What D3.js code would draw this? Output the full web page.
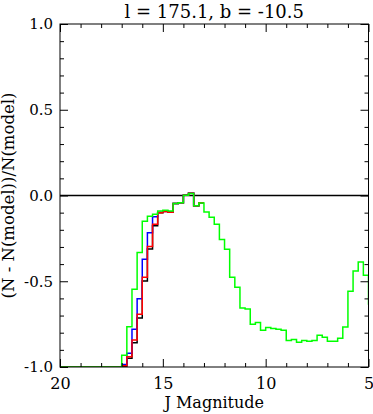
<!DOCTYPE html>
<html>
<head>
<meta charset="utf-8">
<script src="https://cdn.jsdelivr.net/npm/d3@7"></script>
<style>
  html, body { margin: 0; padding: 0; background: #fff; }
  svg { display: block; }
  text { font-family: "DejaVu Serif", serif; fill: #000; }
</style>
</head>
<body>
<svg id="chart" width="373" height="414"></svg>
<script>
// ---- data ----
const title = "l = 175.1, b = -10.5";
const xLabel = "J Magnitude";
const yLabel = "(N - N(model))/N(model)";
const binWidth = 0.25;
const binStarts = [20.0,19.75,19.5,19.25,19.0,18.75,18.5,18.25,18.0,17.75,17.5,17.25,
  17.0,16.75,16.5,16.25,16.0,15.75,15.5,15.25,
  15.0,14.75,14.5,14.25,14.0,13.75,13.5,13.25,
  13.0,12.75,12.5,12.25,12.0,11.75,11.5,11.25,
  11.0,10.75,10.5,10.25,10.0,9.75,9.5,9.25,
  9.0,8.75,8.5,8.25,8.0,7.75,7.5,7.25,
  7.0,6.75,6.5,6.25,6.0,5.75,5.5,5.25,5.0];
const greenVals = [-1,-1,-1,-1,-1,-1,-1,-1,-1,-1,-1,-1,
  -0.932,-0.765,-0.547,-0.333,-0.150,-0.121,-0.110,-0.090,
  -0.086,-0.090,-0.047,-0.042,0.001,0.012,-0.060,-0.044,
  -0.096,-0.127,-0.168,-0.256,-0.314,-0.477,-0.535,-0.656,
  -0.662,-0.751,-0.740,-0.786,-0.769,-0.775,-0.780,-0.786,
  -0.845,-0.839,-0.856,-0.845,-0.850,-0.845,-0.815,-0.827,
  -0.850,-0.850,-0.833,-0.767,-0.559,-0.440,-0.388,-0.465,-0.633];
const blackVals = [-1,-1,-1,-1,-1,-1,-1,-1,-1,-1,-1,-1,
  -0.998,-0.949,-0.858,-0.714,-0.499,-0.312,-0.176,-0.100,
  -0.094,-0.098,-0.046,-0.042,0.001,0.013,-0.060,-0.042];
const blueVals = [-1,-1,-1,-1,-1,-1,-1,-1,-1,-1,-1,-1,
  -0.985,-0.920,-0.780,-0.602,-0.372,-0.217,-0.124,-0.097,
  -0.092,-0.096,-0.046,-0.042,0.001,0.013,-0.060,-0.042];
const redVals = [-1,-1,-1,-1,-1,-1,-1,-1,-1,-1,-1,-1,
  -0.992,-0.940,-0.843,-0.693,-0.477,-0.298,-0.168,-0.100,
  -0.094,-0.098,-0.046,-0.042,0.001,0.013,-0.060,-0.042];
const xMajorTicks = [20, 15, 10, 5];
const xMinorTicks = [19,18,17,16,14,13,12,11,9,8,7,6];
const yMajorTicks = [-1.0, -0.5, 0.0, 0.5, 1.0];
const yMinorTicks = [-0.9,-0.8,-0.7,-0.6,-0.4,-0.3,-0.2,-0.1,0.1,0.2,0.3,0.4,0.6,0.7,0.8,0.9];

// ---- layout ----
const L = 60, R = 368.5, T = 24, B = 367;
const svg = d3.select("#chart");
const x = d3.scaleLinear().domain([20, 5]).range([L, R]);
const y = d3.scaleLinear().domain([-1, 1]).range([B, T]);

svg.append("defs").append("clipPath").attr("id", "clip")
  .append("rect").attr("x", L).attr("y", T).attr("width", R - L).attr("height", B - T);

// ---- series ----
function stepPoints(vals) {
  const pts = vals.map((v, i) => [binStarts[i], v]);
  pts.push([binStarts[vals.length - 1] - binWidth, vals[vals.length - 1]]);
  return pts;
}
const line = d3.line().x(d => x(d[0])).y(d => y(d[1])).curve(d3.curveStepAfter);
const g = svg.append("g").attr("clip-path", "url(#clip)");

// zero line
g.append("line").attr("x1", x(20)).attr("x2", x(5)).attr("y1", y(0)).attr("y2", y(0))
  .attr("stroke", "#000").attr("stroke-width", 1.5);

const series = [
  {vals: blackVals, color: "#000000"},
  {vals: blueVals, color: "#0000ff"},
  {vals: redVals, color: "#ff0000"},
  {vals: greenVals, color: "#00ff00"}
];
series.forEach(s => {
  g.append("path").attr("d", line(stepPoints(s.vals)))
    .attr("fill", "none").attr("stroke", s.color).attr("stroke-width", 1.5);
});

// ---- axes ----
function addAxis(axisFn, scale, ticks, size, transform, fmt) {
  const a = axisFn(scale).tickValues(ticks).tickSizeInner(-size).tickSizeOuter(0)
    .tickPadding(fmt ? 7 : 0).tickFormat(fmt || (() => ""));
  const ax = svg.append("g").attr("transform", transform).call(a);
  ax.select(".domain").remove();
  ax.selectAll("line").attr("stroke", "#000").attr("stroke-width", 1);
  return ax;
}
const bx = addAxis(d3.axisBottom, x, xMajorTicks, 8, `translate(0,${B})`, d => String(d));
bx.selectAll("text").attr("font-size", 16).attr("font-family", "Liberation Serif")
  .attr("dy", "0.95em");
addAxis(d3.axisBottom, x, xMinorTicks, 4, `translate(0,${B})`, null);
addAxis(d3.axisTop, x, xMajorTicks, 8, `translate(0,${T})`, null);
addAxis(d3.axisTop, x, xMinorTicks, 4, `translate(0,${T})`, null);

const ly = addAxis(d3.axisLeft, y, yMajorTicks, 8, `translate(${L},0)`,
  d => d3.format(".1f")(d).replace("\u2212", "-"));
ly.selectAll("text").attr("font-size", 15).attr("font-family", "Liberation Serif");
addAxis(d3.axisLeft, y, yMinorTicks, 4, `translate(${L},0)`, null);
addAxis(d3.axisRight, y, yMajorTicks, 8, `translate(${R},0)`, null);
addAxis(d3.axisRight, y, yMinorTicks, 4, `translate(${R},0)`, null);

// frame
svg.append("rect").attr("x", L).attr("y", T).attr("width", R - L).attr("height", B - T)
  .attr("fill", "none").attr("stroke", "#000").attr("stroke-width", 1);

// ---- titles ----
svg.append("text").attr("x", (L + R) / 2).attr("y", 18).attr("text-anchor", "middle")
  .attr("font-size", 18).text(title);
svg.append("text").attr("x", (L + R) / 2).attr("y", 408).attr("text-anchor", "middle")
  .attr("font-size", 16).text(xLabel);
svg.append("text").attr("transform", `translate(14,${(T + B) / 2}) rotate(-90)`)
  .attr("text-anchor", "middle").attr("font-size", 16.5).text(yLabel);
</script>
</body>
</html>
